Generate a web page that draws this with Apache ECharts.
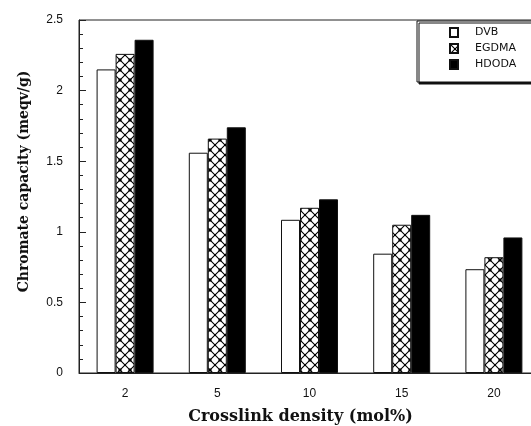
<!DOCTYPE html>
<html>
<head>
<meta charset="utf-8">
<script src="https://cdn.jsdelivr.net/npm/echarts@6/dist/echarts.min.js"></script>
<style>html,body{margin:0;padding:0;background:#fff;}#c{width:531px;height:426px;}</style>
</head>
<body>
<div id="c"></div>
<script>
var categories = ['2', '5', '10', '15', '20'];
var dvb = [2.15, 1.56, 1.085, 0.845, 0.735];
var egdma = [2.26, 1.66, 1.17, 1.05, 0.82];
var hdoda = [2.36, 1.74, 1.23, 1.12, 0.96];
var seriesNames = ['DVB', 'EGDMA', 'HDODA'];

function hatch() {
  var c = document.createElement('canvas');
  c.width = 10; c.height = 10;
  var g = c.getContext('2d');
  g.fillStyle = '#fff'; g.fillRect(0, 0, 10, 10);
  g.strokeStyle = '#000'; g.lineWidth = 1.1;
  g.beginPath();
  g.moveTo(0, 0); g.lineTo(10, 10);
  g.moveTo(10, 0); g.lineTo(0, 10);
  g.stroke();
  g.fillStyle = '#000';
  g.fillRect(4, 4, 2, 2);
  g.fillRect(0, 0, 1.5, 1.5); g.fillRect(8.5, 0, 1.5, 1.5);
  g.fillRect(0, 8.5, 1.5, 1.5); g.fillRect(8.5, 8.5, 1.5, 1.5);
  return c;
}

var chart = echarts.init(document.getElementById('c'));
var axisFont = 'Liberation Sans, Arial, sans-serif';
var nameFont = 'DejaVu Serif, serif';
chart.setOption({
  animation: false,
  backgroundColor: '#fff',
  grid: { left: 79, top: 20, width: 461, height: 353, outerBoundsMode: 'none', containLabel: false,
          show: true, borderColor: '#222', borderWidth: 1, backgroundColor: 'transparent' },
  legend: {
    orient: 'vertical', left: 417, top: 21,
    data: seriesNames,
    icon: 'rect', itemWidth: 8, itemHeight: 9, itemGap: 5,
    padding: [6, 30, 12, 32],
    backgroundColor: '#fff', borderColor: '#111', borderWidth: 1,
    shadowColor: '#111', shadowOffsetY: 2, shadowOffsetX: 2, shadowBlur: 0,
    textStyle: { fontFamily: 'DejaVu Sans, sans-serif', fontSize: 11, color: '#111', padding: [0, 0, 0, 12] }
  },
  xAxis: {
    type: 'category', data: categories,
    name: 'Crosslink density (mol%)', nameLocation: 'middle', nameGap: 36,
    nameTextStyle: { fontFamily: nameFont, fontWeight: 'bold', fontSize: 16, color: '#111', padding: [0, 18, 0, 0] },
    axisLine: { lineStyle: { color: '#222', width: 1 } },
    axisTick: { inside: true, length: 6, lineStyle: { color: '#222' } },
    axisLabel: { fontFamily: axisFont, fontSize: 12, color: '#111', margin: 15 },
    splitLine: { show: false }
  },
  yAxis: {
    type: 'value', min: 0, max: 2.5, interval: 0.5,
    name: 'Chromate capacity (meqv/g)', nameLocation: 'middle', nameGap: 48,
    nameTextStyle: { fontFamily: nameFont, fontWeight: 'bold', fontSize: 14, color: '#111', padding: [0, 0, 0, 30] },
    axisLine: { show: true, lineStyle: { color: '#222', width: 1 } },
    axisTick: { show: true, inside: true, length: 7, lineStyle: { color: '#222' } },
    minorTick: { show: true, splitNumber: 5, length: 4, lineStyle: { color: '#222' } },
    axisLabel: { fontFamily: axisFont, fontSize: 12, color: '#111', margin: 16 },
    splitLine: { show: false }
  },
  series: [
    { name: seriesNames[0], type: 'bar', data: dvb, barWidth: 19, barGap: '0%',
      itemStyle: { color: '#fff', borderColor: '#111', borderWidth: 1 } },
    { name: seriesNames[1], type: 'bar', data: egdma, barWidth: 19, barGap: '0%',
      itemStyle: { color: { image: hatch(), repeat: 'repeat' }, borderColor: '#111', borderWidth: 1 } },
    { name: seriesNames[2], type: 'bar', data: hdoda, barWidth: 19, barGap: '0%',
      itemStyle: { color: '#000', borderColor: '#111', borderWidth: 1 } }
  ]
});
</script>
</body>
</html>
